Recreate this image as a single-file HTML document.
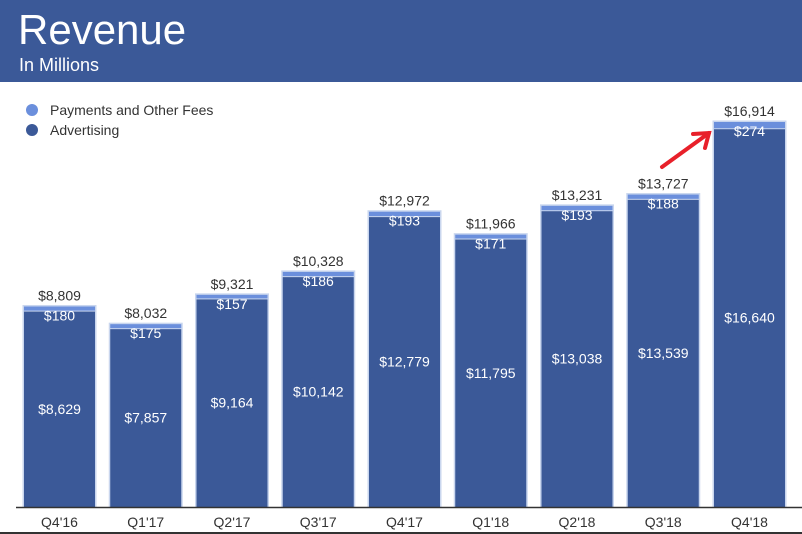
<!DOCTYPE html>
<html><head><meta charset="utf-8"><style>
body{margin:0;width:802px;height:534px;overflow:hidden;background:#fff;font-family:"Liberation Sans",Arial,sans-serif}
#hdr{position:absolute;left:0;top:0;width:802px;height:82px;background:#3b5998}
#t1{position:absolute;left:18px;top:6px;color:#fff;font-size:42px}
#t2{position:absolute;left:19px;top:55px;color:#fff;font-size:18px}
</style></head><body>
<div id="hdr">
<div id="t1">Revenue</div>
<div id="t2">In Millions</div>
</div>
<svg id="chart" width="802" height="534" style="position:absolute;left:0;top:0"></svg>
<script>
const categories=["Q4'16","Q1'17","Q2'17","Q3'17","Q4'17","Q1'18","Q2'18","Q3'18","Q4'18"];
const advertising=[8629,7857,9164,10142,12779,11795,13038,13539,16640];
const payments=[180,175,157,186,193,171,193,188,274];
const totals=[8809,8032,9321,10328,12972,11966,13231,13727,16914];
const svg=document.getElementById('chart');const NS='http://www.w3.org/2000/svg';
const base=507,scale=385/16914;
const y=v=>base-v*scale;
const x=i=>24+i*86.25;const bw=71;
function mk(t,a,p){const e=document.createElementNS(NS,t);for(const k in a)e.setAttribute(k,a[k]);(p||svg).appendChild(e);return e;}
const fmt=v=>'$'+v.toLocaleString('en-US');
// legend
let g=mk('g',{});
let c=mk('circle',{cx:32,cy:110,r:6,fill:'#6b8fdc'},g);
let t=mk('text',{x:50,y:115,'font-size':14,fill:'#333'},g);t.textContent='Payments and Other Fees';
c=mk('circle',{cx:32,cy:130,r:6,fill:'#3b5998'},g);
t=mk('text',{x:50,y:135,'font-size':14,fill:'#333'},g);t.textContent='Advertising';
categories.forEach((cat,i)=>{
 const tot=advertising[i]+payments[i];
 const top=y(tot),mid=y(advertising[i]);
 let o=mk('rect',{x:x(i)-1.5,y:top-1.5,width:bw+3,height:base-top+1.5,fill:'#c9d6ee'});
 
 let p=mk('rect',{x:x(i),y:top,width:bw,height:mid-top,fill:'#6b8fdc'});
 
 let a=mk('rect',{x:x(i),y:mid+1,width:bw,height:base-mid-1,fill:'#3b5998'});
 
 let tl=mk('text',{x:x(i)+bw/2,y:top-6,'text-anchor':'middle','font-size':14,fill:'#333'});
 tl.textContent=fmt(totals[i]);
 let pl=mk('text',{x:x(i)+bw/2,y:top+14,'text-anchor':'middle','font-size':14,fill:'#fff'});
 pl.textContent=fmt(payments[i]);
 let al=mk('text',{x:x(i)+bw/2,y:(mid+base)/2+5,'text-anchor':'middle','font-size':14,fill:'#fff'});
 al.textContent=fmt(advertising[i]);
 let cl=mk('text',{x:x(i)+bw/2,y:527,'text-anchor':'middle','font-size':14,fill:'#333'});
 cl.textContent=cat;
});
let ax=mk('line',{x1:16,x2:802,y1:base+0.5,y2:base+0.5,stroke:'#333','stroke-width':1.5});

let bl=mk('rect',{x:0,y:532,width:802,height:2,fill:'#333'});

let ar=mk('g',{stroke:'#e8202a','stroke-width':4,fill:'none','stroke-linecap':'round'});

mk('line',{x1:662,y1:167,x2:709,y2:133},ar);
mk('polyline',{points:'693,134 709,133 705,148'},ar);
</script>
</body></html>
